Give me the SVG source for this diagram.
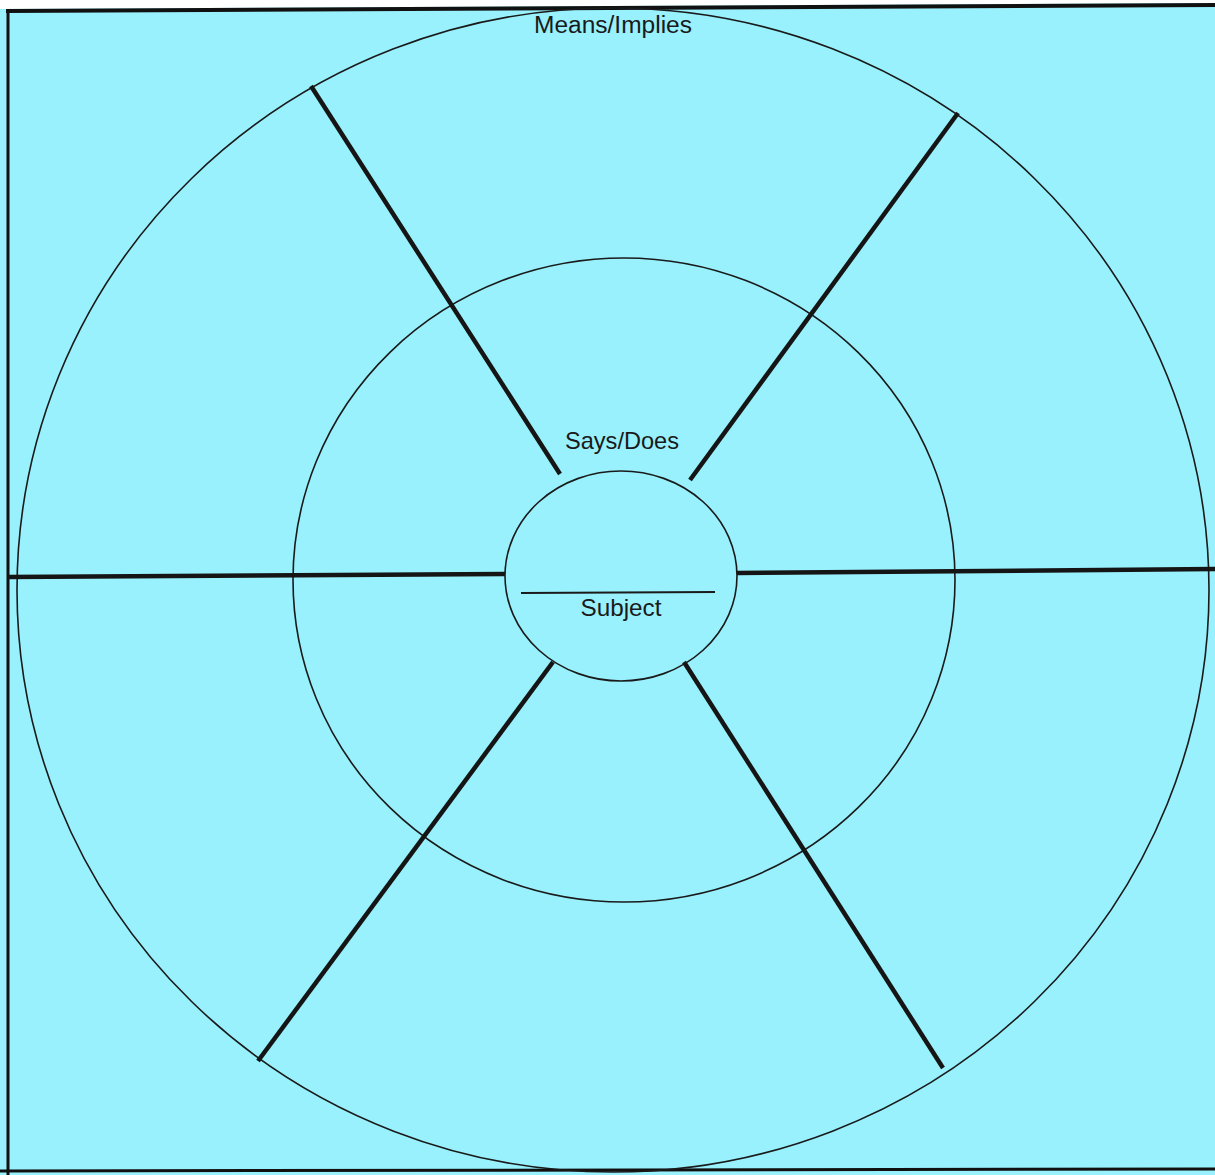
<svg xmlns="http://www.w3.org/2000/svg" width="1215" height="1175" viewBox="0 0 1215 1175">
<style>
.ring{fill:none;stroke:#1a1a1a;stroke-width:1.6}
.spoke{stroke:#151515;stroke-width:4.5;stroke-linecap:butt}
.frame{stroke:#111;fill:none}
.lbl{font-family:"Liberation Sans","DejaVu Sans",sans-serif;fill:#1a1a1a;text-anchor:middle}
</style>
<rect x="0" y="0" width="1215" height="1175" fill="#98F1FC"/>
<polygon points="0,0 1215,0 1215,3 0,9" fill="#ffffff"/>
<g id="frame">
<line class="frame" x1="6" y1="11" x2="1215" y2="5" stroke-width="4"/>
<line class="frame" x1="8" y1="10" x2="8" y2="1175" stroke-width="3"/>
<line class="frame" x1="0" y1="1171" x2="1215" y2="1169" stroke-width="3"/>
</g>
<g id="outer-ring"><ellipse class="ring" cx="613" cy="590" rx="596" ry="582"/></g>
<g id="middle-ring"><ellipse class="ring" cx="624" cy="580" rx="331" ry="322"/></g>
<g id="connectors">
<line class="spoke" x1="8" y1="577" x2="505" y2="574"/>
<line class="spoke" x1="737" y1="573" x2="1215" y2="569"/>
<line class="spoke" x1="311" y1="86" x2="560" y2="474"/>
<line class="spoke" x1="958" y1="113" x2="690" y2="480"/>
<line class="spoke" x1="553" y1="662" x2="258" y2="1061"/>
<line class="spoke" x1="684" y1="662" x2="943" y2="1068"/>
</g>
<g id="subject">
<ellipse class="ring" cx="621" cy="576" rx="116" ry="105"/>
<line x1="521" y1="593" x2="715" y2="592" stroke="#1a1a1a" stroke-width="2"/>
<text class="lbl" x="621" y="616" font-size="24" textLength="81" lengthAdjust="spacingAndGlyphs">Subject</text>
</g>
<g id="says-does"><text class="lbl" x="622" y="449" font-size="24" textLength="114" lengthAdjust="spacingAndGlyphs">Says/Does</text></g>
<g id="means-implies"><text class="lbl" x="613" y="33" font-size="23" textLength="158" lengthAdjust="spacingAndGlyphs">Means/Implies</text></g>
</svg>
